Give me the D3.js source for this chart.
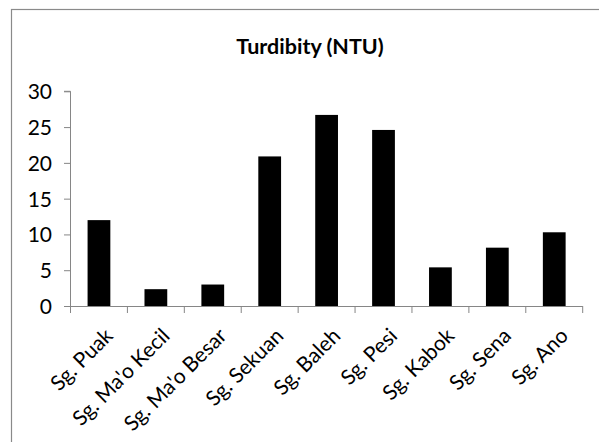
<!DOCTYPE html>
<html><head><meta charset="utf-8">
<script src="https://cdn.jsdelivr.net/npm/d3@7"></script>
<style>html,body{margin:0;padding:0;background:#fff;}svg{display:block;}</style>
</head><body>
<svg id="chart" width="599" height="442"></svg>
<script>
const categories = ["Sg. Puak","Sg. Ma'o Kecil","Sg. Ma'o Besar","Sg. Sekuan","Sg. Baleh","Sg. Pesi","Sg. Kabok","Sg. Sena","Sg. Ano"];
const values = [12.0, 2.35, 3.0, 20.9, 26.7, 24.6, 5.4, 8.15, 10.3];
const yTicks = [0, 5, 10, 15, 20, 25, 30];
const title = "Turdibity (NTU)";

(function () {
const svg = d3.select("#chart");
const font = "Lato, 'Open Sans', sans-serif";
const axisColor = "#868686";

// outer border (extends beyond right/bottom edge)
svg.append("rect").attr("x", 11.5).attr("y", 9.5).attr("width", 620).attr("height", 460)
  .attr("fill", "none").attr("stroke", "#8a8a8a").attr("stroke-width", 1.2);

const pl = 70.5, pr = 582.7, pt = 91.3, pb = 306;
const x = d3.scaleBand().domain(categories).range([pl, pr]).paddingInner(0.6).paddingOuter(0.3);
const xb = d3.scaleBand().domain(categories).range([pl, pr]);
const y = d3.scaleLinear().domain([0, 30]).range([pb, pt]);

// title
svg.append("text").attr("x", 310).attr("y", 53.5).attr("text-anchor", "middle")
  .attr("font-family", font).attr("font-weight", "bold").attr("font-size", 21.5).attr("fill", "#000")
  .text(title);

// bars
svg.append("g").selectAll("rect").data(values).join("rect")
  .attr("x", (d, i) => x(categories[i]))
  .attr("width", x.bandwidth())
  .attr("y", d => y(d))
  .attr("height", d => y(0) - y(d))
  .attr("fill", "#000");

// y axis
const yAxis = svg.append("g").attr("transform", `translate(${pl},0)`)
  .call(d3.axisLeft(y).tickValues(yTicks).tickSize(6.5).tickPadding(12).tickFormat(d3.format("d")));
yAxis.select(".domain").attr("stroke", axisColor).attr("d", `M-6.5,${pt}H0V${pb}`);
yAxis.selectAll(".tick line").attr("stroke", axisColor);
yAxis.selectAll(".tick text").attr("font-family", font).attr("font-size", 21).attr("fill", "#000").attr("dy", "0.36em");

// x axis line and ticks at band boundaries
const xg = svg.append("g");
xg.append("line").attr("x1", pl).attr("x2", pr).attr("y1", pb + 0.5).attr("y2", pb + 0.5)
  .attr("stroke", axisColor);
const boundaries = categories.map(c => xb(c)).concat([pr]);
xg.selectAll("line.t").data(boundaries).join("line").attr("class", "t")
  .attr("x1", d => d).attr("x2", d => d).attr("y1", pb).attr("y2", pb + 7)
  .attr("stroke", axisColor);

// category labels
svg.append("g").selectAll("text").data(categories).join("text")
  .attr("transform", d => `translate(${xb(d) + xb.bandwidth() / 2 + 4},326) rotate(-45)`)
  .attr("text-anchor", "end").attr("dy", "0.75em")
  .attr("font-family", font).attr("font-size", 21).attr("fill", "#000")
  .text(d => d);
})();
</script>
</body></html>
